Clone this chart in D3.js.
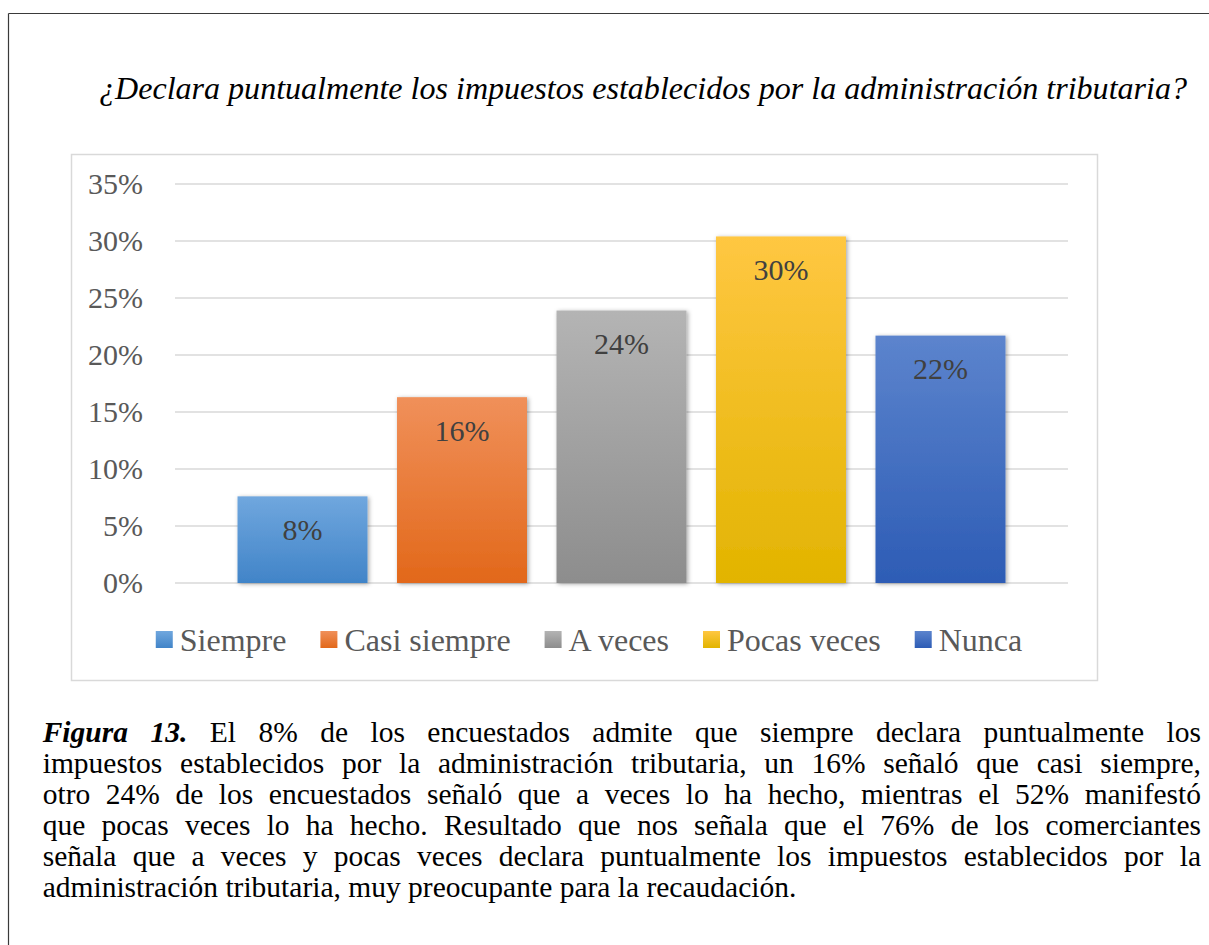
<!DOCTYPE html>
<html>
<head>
<meta charset="utf-8">
<script src="https://cdn.jsdelivr.net/npm/d3@7"></script>
<style>
  body { margin: 0; background: #fff; }
  svg, svg text { font-family: 'Liberation Serif', 'Times New Roman', Times, serif; }
</style>
</head>
<body>
<svg id="fig" width="1209" height="945"></svg>
<script>
// Chart data.
var categories = ["Siempre", "Casi siempre", "A veces", "Pocas veces", "Nunca"];
var values = [0.076, 0.163, 0.239, 0.304, 0.217];
var yTicks = [0, 0.05, 0.10, 0.15, 0.20, 0.25, 0.30, 0.35];
var topColors = ["#70a7de", "#f0905a", "#b4b4b4", "#ffc742", "#5c84cd"];
var bottomColors = ["#4184c8", "#e2681a", "#8d8d8d", "#e2b400", "#2d5cb5"];

var title = "¿Declara puntualmente los impuestos establecidos por la administración tributaria?";
var captionLead = ["Figura", "13."];
var captionLines = [
  "El 8% de los encuestados admite que siempre declara puntualmente los",
  "impuestos establecidos por la administración tributaria, un 16% señaló que casi siempre,",
  "otro 24% de los encuestados señaló que a veces lo ha hecho, mientras el 52% manifestó",
  "que pocas veces lo ha hecho. Resultado que nos señala que el 76% de los comerciantes",
  "señala que a veces y pocas veces declara puntualmente los impuestos establecidos por la",
  "administración tributaria, muy preocupante para la recaudación."
];

var FONT = "'Liberation Serif', 'Times New Roman', Times, serif";
var W = 1209, H = 945;

function draw() {
  var svg = d3.select("#fig");

  // page frame (left + top rule of the scanned box)
  svg.append("line").attr("x1", 8.5).attr("y1", 13.5).attr("x2", W).attr("y2", 13.5)
      .attr("stroke", "#3a3a3a").attr("stroke-width", 1.2);
  svg.append("line").attr("x1", 8.5).attr("y1", 13.5).attr("x2", 8.5).attr("y2", H)
      .attr("stroke", "#3a3a3a").attr("stroke-width", 1.2);

  // title
  svg.append("text")
      .attr("x", 643).attr("y", 99)
      .attr("text-anchor", "middle")
      .attr("font-family", FONT)
      .attr("font-style", "italic")
      .attr("font-size", 32)
      .attr("textLength", 1088)
      .attr("lengthAdjust", "spacingAndGlyphs")
      .attr("fill", "#000")
      .text(title);

  // chart area box
  svg.append("rect")
      .attr("x", 71.5).attr("y", 154.5).attr("width", 1026).attr("height", 526)
      .attr("fill", "#fff").attr("stroke", "#d9d9d9").attr("stroke-width", 1.5);

  var plot = { left: 175, right: 1068, top: 184, bottom: 583 };

  var x = d3.scaleBand()
      .domain(categories)
      .range([plot.left, plot.right])
      .paddingInner(0.185)
      .paddingOuter(0.392);

  var y = d3.scaleLinear()
      .domain([0, 0.35])
      .range([plot.bottom, plot.top]);

  // gradients + shadow
  var defs = svg.append("defs");
  categories.forEach(function(c, i) {
    var g = defs.append("linearGradient")
        .attr("id", "grad" + i)
        .attr("x1", 0).attr("y1", 0).attr("x2", 0).attr("y2", 1);
    g.append("stop").attr("offset", "0%").attr("stop-color", topColors[i]);
    g.append("stop").attr("offset", "100%").attr("stop-color", bottomColors[i]);
  });
  var shadow = defs.append("filter").attr("id", "shadow")
      .attr("x", "-10%").attr("y", "-10%").attr("width", "130%").attr("height", "130%");
  shadow.append("feDropShadow")
      .attr("dx", 1.5).attr("dy", 1).attr("stdDeviation", 2)
      .attr("flood-color", "#000").attr("flood-opacity", 0.35);

  // gridlines
  svg.append("g")
    .selectAll("line")
    .data(yTicks)
    .enter().append("line")
      .attr("x1", plot.left).attr("x2", plot.right)
      .attr("y1", function(d) { return y(d); })
      .attr("y2", function(d) { return y(d); })
      .attr("stroke", "#d9d9d9").attr("stroke-width", 1.5);

  // y axis labels
  var yAxis = d3.axisLeft(y)
      .tickValues(yTicks)
      .tickFormat(d3.format(".0%"))
      .tickSize(0)
      .tickPadding(0);
  var ya = svg.append("g")
      .attr("transform", "translate(143,0)")
      .call(yAxis)
      .attr("font-family", FONT)
      .attr("font-size", 30);
  ya.select(".domain").remove();
  ya.selectAll("text")
      .attr("font-family", FONT)
      .attr("fill", "#595959");

  // bars
  svg.append("g")
    .selectAll("rect")
    .data(values)
    .enter().append("rect")
      .attr("x", function(d, i) { return x(categories[i]); })
      .attr("y", function(d) { return y(d); })
      .attr("width", x.bandwidth())
      .attr("height", function(d) { return y(0) - y(d); })
      .attr("fill", function(d, i) { return "url(#grad" + i + ")"; })
      .attr("filter", "url(#shadow)");

  // data labels
  svg.append("g")
    .selectAll("text")
    .data(values)
    .enter().append("text")
      .attr("x", function(d, i) { return x(categories[i]) + x.bandwidth() / 2; })
      .attr("y", function(d) { return y(d) + 33; })
      .attr("dy", "0.35em")
      .attr("text-anchor", "middle")
      .attr("font-family", FONT)
      .attr("font-size", 30)
      .attr("fill", "#404040")
      .text(d3.format(".0%"));

  // legend
  var legend = svg.append("g");
  var items = legend.selectAll("g")
      .data(categories)
      .enter().append("g");
  items.append("rect")
      .attr("width", 17).attr("height", 17)
      .attr("y", 631)
      .attr("fill", function(d, i) { return "url(#grad" + i + ")"; });
  items.append("text")
      .attr("x", 24).attr("y", 651)
      .attr("font-family", FONT)
      .attr("font-size", 32)
      .attr("fill", "#595959")
      .text(function(d) { return d; });
  var cursor = 0, offsets = [];
  items.each(function() {
    offsets.push(cursor);
    var tw = d3.select(this).select("text").node().getComputedTextLength();
    cursor += 24 + tw + 34;
  });
  var legendWidth = cursor - 34;
  var legendStart = 589 - legendWidth / 2;
  items.attr("transform", function(d, i) { return "translate(" + (legendStart + offsets[i]) + ",0)"; });

  // caption, justified word by word
  var capLeft = 42.7, capRight = 1201, capTop = 742, capStep = 31;
  var capSize = 29.5;
  var cap = svg.append("g").attr("font-size", capSize).attr("fill", "#000");

  captionLines.forEach(function(line, li) {
    var words = line.split(" ").map(function(w) { return { t: w, lead: false }; });
    if (li === 0) {
      words = captionLead.map(function(w) { return { t: w, lead: true }; }).concat(words);
    }
    var baseY = capTop + li * capStep;
    var nodes = words.map(function(w) {
      var t = cap.append("text")
          .attr("y", baseY)
          .attr("font-family", FONT)
          .text(w.t);
      if (w.lead) t.attr("font-weight", "bold").attr("font-style", "italic");
      return { sel: t, w: t.node().getComputedTextLength() };
    });
    var total = d3.sum(nodes, function(n) { return n.w; });
    var last = li === captionLines.length - 1;
    var gap = last ? capSize * 0.25 : (capRight - capLeft - total) / (nodes.length - 1);
    var cx = capLeft;
    nodes.forEach(function(n) {
      n.sel.attr("x", cx);
      cx += n.w + gap;
    });
  });
}

if (document.fonts && document.fonts.ready) {
  document.fonts.ready.then(draw);
} else {
  draw();
}
</script>
</body>
</html>
